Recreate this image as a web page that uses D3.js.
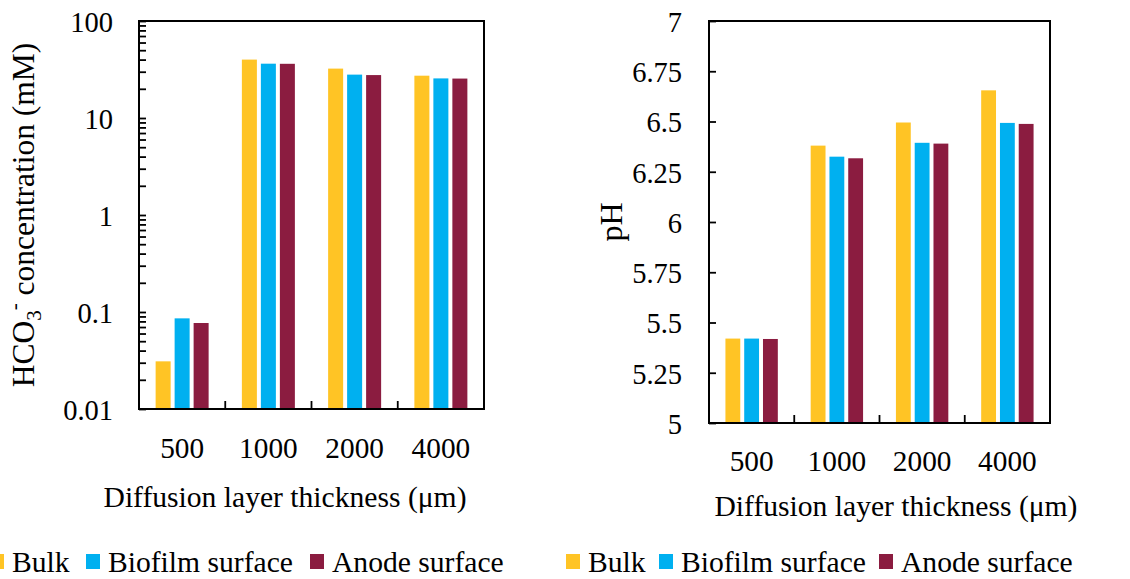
<!DOCTYPE html>
<html>
<head>
<meta charset="utf-8">
<script src="https://cdn.jsdelivr.net/npm/d3@7"></script>
</head>
<body style="margin:0; background:#fff">
<svg id="chart" width="1130" height="579"></svg>
<script>
// categories / series
var categories = ["500", "1000", "2000", "4000"];
var seriesNames = ["Bulk", "Biofilm surface", "Anode surface"];
var seriesColors = ["#FFC425", "#00B0F0", "#8B1C40"];

// HCO3- concentration (mM), log axis
var hco3Bulk = [0.031, 40, 32.3, 27.3];
var hco3Biofilm = [0.086, 36.3, 28.0, 25.6];
var hco3Anode = [0.077, 36.2, 27.7, 25.5];

// pH
var phBulk = [5.42, 6.38, 6.495, 6.655];
var phBiofilm = [5.42, 6.325, 6.394, 6.493];
var phAnode = [5.418, 6.317, 6.39, 6.488];

// tick labels
var hco3Ticks = [0.01, 0.1, 1, 10, 100];
var hco3TickLabels = ["0.01", "0.1", "1", "10", "100"];
var phTicks = [5, 5.25, 5.5, 5.75, 6, 6.25, 6.5, 6.75, 7];
var phTickLabels = ["5", "5.25", "5.5", "5.75", "6", "6.25", "6.5", "6.75", "7"];

var FONT = "Liberation Serif";
var svg = d3.select("#chart");

function serif(sel, size) {
    return sel.style("font-family", FONT).style("font-size", (size || 29.6) + "px");
}

function drawPanel(cfg) {
    var g = svg.append("g").attr("transform", "translate(" + cfg.left + "," + cfg.top + ")");
    var width = cfg.w, height = cfg.h;

    var x = d3.scaleBand().domain(categories).range([0, width]).padding(0);
    var xs = d3.scaleBand().domain(d3.range(seriesNames.length))
        .range([0, x.bandwidth()])
        .paddingInner(0.21).paddingOuter(0.875);
    var y = cfg.y.range([height, 0]);
    var base = y.domain()[0];

    // bars
    cfg.series.forEach(function (vals, si) {
        g.selectAll(".bar" + si)
            .data(vals)
            .enter().append("rect")
            .attr("class", "bar" + si)
            .attr("x", function (d, i) { return x(categories[i]) + xs(si); })
            .attr("width", xs.bandwidth())
            .attr("y", function (d) { return y(d); })
            .attr("height", function (d) { return y(base) - y(d); })
            .attr("fill", seriesColors[si]);
    });

    // y axis, ticks inside
    var yAxis = d3.axisLeft(y)
        .tickValues(cfg.tickValues)
        .tickSizeInner(-7)
        .tickSizeOuter(0)
        .tickPadding(cfg.tickPad)
        .tickFormat(cfg.tickFormat);
    var ya = g.append("g").call(yAxis);
    ya.select(".domain").remove();
    ya.selectAll("line").attr("stroke", "#000").attr("stroke-width", 1.8);
    serif(ya.selectAll("text"), 28.5).attr("dy", "0.36em");

    // x axis labels
    var xAxis = d3.axisBottom(x).tickSize(0).tickPadding(cfg.xPad);
    var xa = g.append("g").attr("transform", "translate(0," + height + ")").call(xAxis);
    xa.select(".domain").remove();
    serif(xa.selectAll("text"), 29.3);

    // separators between categories, pointing up
    g.selectAll(".sep")
        .data(categories.slice(1))
        .enter().append("line")
        .attr("class", "sep")
        .attr("x1", function (d) { return x(d); })
        .attr("x2", function (d) { return x(d); })
        .attr("y1", height)
        .attr("y2", height - 8)
        .attr("stroke", "#000")
        .attr("stroke-width", 1.8);

    // frame
    g.append("rect")
        .attr("width", width).attr("height", height)
        .attr("fill", "none").attr("stroke", "#000").attr("stroke-width", 2);

    // x title
    serif(g.append("text"))
        .attr("x", cfg.xTitleX).attr("y", cfg.xTitleY)
        .attr("text-anchor", "middle")
        .text("Diffusion layer thickness (\u03bcm)");
}

drawPanel({
    left: 139, top: 21, w: 345, h: 388,
    y: d3.scaleLog().domain([0.01, 100]),
    series: [hco3Bulk, hco3Biofilm, hco3Anode],
    tickValues: d3.merge(hco3Ticks.slice(0, -1).map(function (t) {
        return d3.range(1, 10).map(function (k) { return t * k; });
    })).concat([100]),
    tickFormat: function (d) {
        var i = hco3Ticks.findIndex(function (t) { return Math.abs(t - d) < t * 1e-6; });
        return i >= 0 ? hco3TickLabels[i] : "";
    },
    tickPad: 26,
    xPad: 28,
    xTitleX: 146, xTitleY: 486
});

// HCO3- title
var lt = serif(svg.append("text"), 31.5)
    .attr("transform", "translate(34,215) rotate(-90)")
    .attr("text-anchor", "middle");
lt.append("tspan").text("HCO");
lt.append("tspan").style("font-size", "21px").attr("dy", 7).text("3");
lt.append("tspan").style("font-size", "21px").attr("dy", -20).text("-");
lt.append("tspan").attr("dy", 13).text(" concentration (mM)");

drawPanel({
    left: 709, top: 21, w: 341, h: 402,
    y: d3.scaleLinear().domain([5, 7]),
    series: [phBulk, phBiofilm, phAnode],
    tickValues: phTicks,
    tickFormat: function (d, i) { return phTickLabels[i]; },
    tickPad: 27,
    xPad: 27,
    xTitleX: 187, xTitleY: 495
});

serif(svg.append("text"), 32)
    .attr("transform", "translate(622,222) rotate(-90)")
    .attr("text-anchor", "middle")
    .text("pH");

// legends (item positions as in the figure)
function drawLegend(xs, yBase) {
    var lg = svg.append("g");
    seriesNames.forEach(function (name, i) {
        lg.append("rect")
            .attr("x", xs[i]).attr("y", yBase - 18)
            .attr("width", 14).attr("height", 15)
            .attr("fill", seriesColors[i]);
        serif(lg.append("text"))
            .attr("x", xs[i] + 22).attr("y", yBase)
            .text(name);
    });
}
drawLegend([-10, 86, 310], 572);
drawLegend([566, 659, 879], 572);
</script>
</body>
</html>
